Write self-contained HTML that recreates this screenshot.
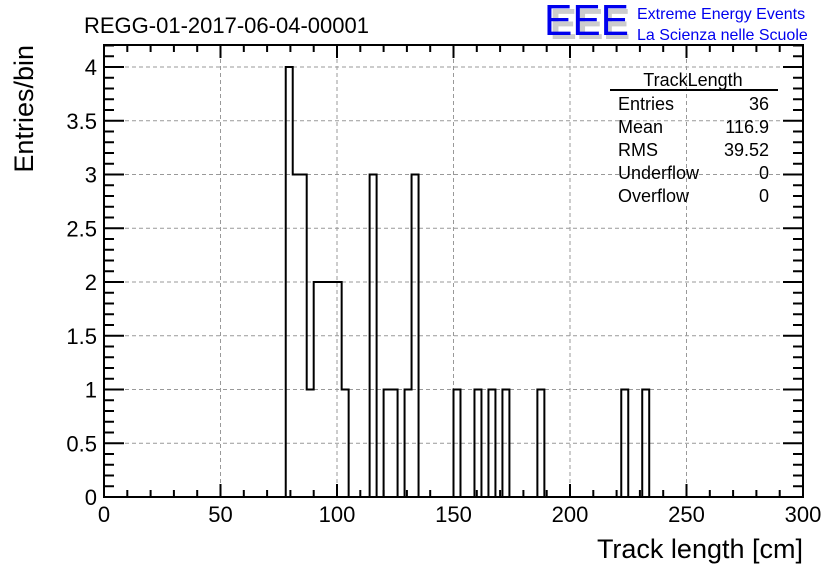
<!DOCTYPE html>
<html><head><meta charset="utf-8"><style>
body{margin:0;background:#fff;}
svg{display:block;font-family:"Liberation Sans",Arial,sans-serif;}
</style></head><body>
<svg id="chart" width="836" height="572" viewBox="0 0 836 572" xmlns="http://www.w3.org/2000/svg">
<rect x="0" y="0" width="836" height="572" fill="#fff"/>
<text x="84" y="33" font-size="22">REGG-01-2017-06-04-00001</text>
<g>
<text x="550" y="39" font-size="44" fill="#ccc" font-weight="bold" textLength="80" lengthAdjust="spacingAndGlyphs">EEE</text>
<text x="544" y="35" font-size="44" fill="#0000ee" textLength="85" lengthAdjust="spacingAndGlyphs">EEE</text>
<text x="637" y="19" font-size="16" fill="#0000ee">Extreme Energy Events</text>
<text x="637" y="40" font-size="16" fill="#0000ee">La Scienza nelle Scuole</text>
</g>
<g id="grid"></g>
<g id="hist"></g>
<rect x="104" y="45" width="699" height="452" fill="none" stroke="#000" stroke-width="2"/>
<g id="ticks"></g>
<text x="803" y="558" font-size="27" text-anchor="end">Track length [cm]</text>
<text transform="translate(33,45) rotate(-90)" font-size="27" text-anchor="end">Entries/bin</text>
<g font-size="18">
<text x="693" y="86" text-anchor="middle">TrackLength</text>
<line x1="610" y1="90" x2="778" y2="90" stroke="#000" stroke-width="2"/>
<text x="618" y="110">Entries</text><text x="769" y="110" text-anchor="end">36</text>
<text x="618" y="133">Mean</text><text x="769" y="133" text-anchor="end">116.9</text>
<text x="618" y="156">RMS</text><text x="769" y="156" text-anchor="end">39.52</text>
<text x="618" y="179">Underflow</text><text x="769" y="179" text-anchor="end">0</text>
<text x="618" y="202">Overflow</text><text x="769" y="202" text-anchor="end">0</text>
</g>
</svg>
<script>
const binLows = [78,81,84,87,90,93,96,99,102,114,120,123,129,132,150,159,165,171,186,222,231];
const binCounts = [4,3,3,1,2,2,2,2,1,3,1,1,1,3,1,1,1,1,1,1,1];
const binWidth = 3;
const xTicks = [0,50,100,150,200,250,300];
const yTicks = [0,0.5,1,1.5,2,2.5,3,3.5,4];
const NS="http://www.w3.org/2000/svg";
const X0=104,X1=803,Y0=497,Y1=45,XMAX=300,YMAX=4.2047;
const sx=v=>X0+(v/XMAX)*(X1-X0);
const sy=v=>Y0-(v/YMAX)*(Y0-Y1);
function mk(tag,attrs,parent){const e=document.createElementNS(NS,tag);for(const k in attrs)e.setAttribute(k,attrs[k]);parent.appendChild(e);return e;}
const grid=document.getElementById('grid'),ticks=document.getElementById('ticks'),hist=document.getElementById('hist');
xTicks.forEach(t=>{
  if(t>0&&t<XMAX){const g=mk('line',{x1:sx(t),x2:sx(t),y1:Y1,y2:Y0,stroke:'#999','stroke-dasharray':'4,3','stroke-width':1},grid);
  
  }
  const l=mk('text',{x:sx(t),y:522,'font-size':22,'text-anchor':'middle'},ticks);l.textContent=t;
  
  
});
for(let v=0;v<=XMAX;v+=10){const len=(v%50===0)?13:7;
  mk('line',{x1:sx(v),x2:sx(v),y1:Y0,y2:Y0-len,stroke:'#000','stroke-width':2},ticks);
  mk('line',{x1:sx(v),x2:sx(v),y1:Y1,y2:Y1+len,stroke:'#000','stroke-width':2},ticks);}
yTicks.forEach(t=>{
  if(t>0){const g=mk('line',{x1:X0,x2:X1,y1:sy(t),y2:sy(t),stroke:'#999','stroke-dasharray':'4,3','stroke-width':1},grid);
  
  }
  const l=mk('text',{x:97,y:sy(t)+8,'font-size':22,'text-anchor':'end'},ticks);l.textContent=t;
  
  
});
for(let i=0;i<=42;i++){const v=i*0.1;const len=(i%5===0)?20:10;
  mk('line',{x1:X0,x2:X0+len,y1:sy(v),y2:sy(v),stroke:'#000','stroke-width':2},ticks);
  mk('line',{x1:X1,x2:X1-len,y1:sy(v),y2:sy(v),stroke:'#000','stroke-width':2},ticks);}
// histogram outline
let d='M'+sx(0)+','+sy(0);let cur=0;
const pts=[];
binLows.forEach((lo,i)=>{pts.push([lo,binCounts[i]]);});
pts.forEach(([lo,c])=>{
  const a=sx(lo),b=sx(lo+binWidth);
  d+=' L'+a+','+sy(cur)+' L'+a+','+sy(c)+' L'+b+','+sy(c);
  cur=c;
  // check contiguous
});
// rebuild properly handling gaps
d='M'+sx(0)+','+sy(0);cur=0;let lastHi=0;
pts.forEach(([lo,c])=>{
  if(lo>lastHi){d+=' L'+sx(lastHi)+','+sy(0);cur=0;}
  d+=' L'+sx(lo)+','+sy(cur)+' L'+sx(lo)+','+sy(c)+' L'+sx(lo+binWidth)+','+sy(c);
  cur=c;lastHi=lo+binWidth;
});
d+=' L'+sx(lastHi)+','+sy(0)+' L'+sx(XMAX)+','+sy(0);
const p=mk('path',{d:d,fill:'none',stroke:'#000','stroke-width':2},hist);


</script>
</body></html>
